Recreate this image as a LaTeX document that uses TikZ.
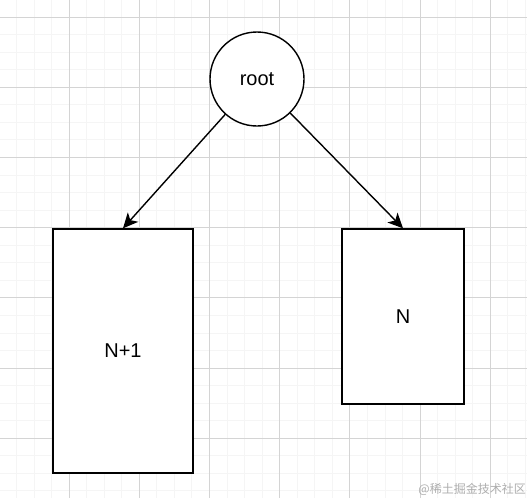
\documentclass[tikz,border=0pt]{standalone}
\usepackage{fontspec}
\setmainfont{Liberation Sans}
\newfontfamily\cjkfont{Noto Sans CJK SC}
\usetikzlibrary{arrows.meta, positioning}

\begin{document}
\begin{tikzpicture}[
	% One unit is one pixel of the picture, y grows downwards.
	x=1pt, y=-1pt
	]
	% Define custom styles to make the code cleaner and more reusable.
	\tikzset{
		gridminor/.style={draw=black!4, line width=0.8pt},
		gridmajor/.style={draw=black!17, line width=0.8pt},
		rootnode/.style={draw, circle, fill=white, line width=1.4pt, minimum size=94pt, inner sep=0pt, font=\fontsize{20}{24}\selectfont},
		leaf/.style={draw, rectangle, fill=white, line width=1.4pt, inner sep=0pt, font=\fontsize{20}{24}\selectfont},
		line/.style={-{Stealth[length=15pt, width=14pt, inset=4pt]}, line width=1.4pt}
	}
	\useasboundingbox (0,0) rectangle (527,498);
	
	% === GRID ===
	\begin{scope}
		\clip (0,0) rectangle (527,498);
		\foreach \x in {-1.2,16.35,...,530} \draw[gridminor] (\x,0) -- (\x,498);
		\foreach \y in {-0.55,17,...,500} \draw[gridminor] (0,\y) -- (527,\y);
		\foreach \x in {-1.2,69,...,530} \draw[gridmajor] (\x,0) -- (\x,498);
		\foreach \y in {17,87.2,...,500} \draw[gridmajor] (0,\y) -- (527,\y);
	\end{scope}
	
	% === NODES ===
	\node[rootnode] (root) at (257,79) {root};
	\node[leaf, minimum width=140pt, minimum height=244pt] (left) at (123,351) {N+1};
	\node[leaf, minimum width=122pt, minimum height=175pt] (right) at (403,316.5) {N};
	\node[anchor=east, inner sep=0pt, text=black!32, font=\cjkfont\fontsize{12}{14}\selectfont] (mark) at (526,489) {@稀土掘金技术社区};
	
	% === CONNECTIONS ===
	\draw[line] (root) -- (left.north);
	\draw[line] (root) -- (right.north);
\end{tikzpicture}
\end{document}
